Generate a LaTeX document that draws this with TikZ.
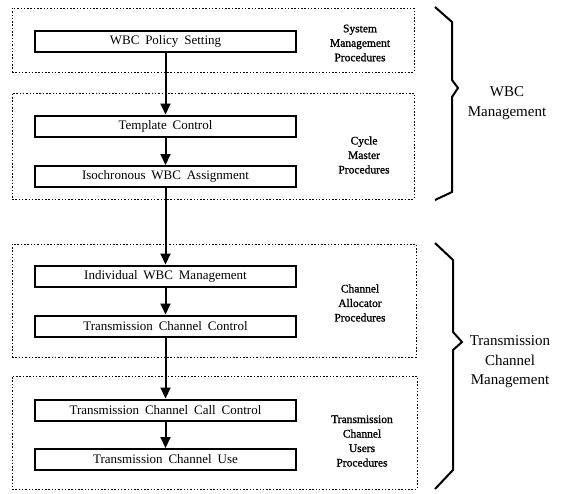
\documentclass[tikz,border=0pt]{standalone}
\usepackage{fontspec}
\setmainfont{Liberation Serif}
\newfontfamily\heavyserif[FakeBold=1.2]{Liberation Serif}
\usetikzlibrary{arrows.meta}
\newcommand{\wideword}{\spaceskip=0.45em\relax}
\begin{document}
\begin{tikzpicture}[x=1pt,y=-1pt,
  procbox/.style={draw,line width=2pt,minimum width=261pt,minimum height=21pt,inner sep=0pt,
    font=\fontsize{13}{15}\selectfont,execute at begin node=\wideword},
  group/.style={draw,line width=0.8pt,dash pattern=on 1.5pt off 1.8pt,inner sep=0pt},
  grplabel/.style={align=center,font=\heavyserif\fontsize{11.5}{14.5}\selectfont},
  biglabel/.style={align=center,font=\fontsize{15}{19.5}\selectfont},
  flow/.style={line width=2pt,-{Triangle[length=11pt,width=10pt]}},
  bracepath/.style={line width=2pt,line join=miter}]
\useasboundingbox (0,0) rectangle (564,493);
% groups
\node[group,minimum width=402pt,minimum height=64pt] (g1) at (213,40) {};
\node[group,minimum width=402pt,minimum height=106pt] (g2) at (213,146) {};
\node[group,minimum width=404pt,minimum height=113pt] (g3) at (214,300.5) {};
\node[group,minimum width=405pt,minimum height=113pt] (g4) at (214.5,432.5) {};
% boxes
\node[procbox] (b1) at (165.5,41.5) {WBC Policy Setting};
\node[procbox] (b2) at (165.5,126) {Template Control};
\node[procbox] (b3) at (165.5,176.5) {Isochronous WBC Assignment};
\node[procbox] (b4) at (165.5,276) {Individual WBC Management};
\node[procbox] (b5) at (165.5,326) {Transmission Channel Control};
\node[procbox] (b6) at (165.5,410) {Transmission Channel Call Control};
\node[procbox] (b7) at (165.5,459.5) {Transmission Channel Use};
% arrows
\draw[flow] (b1) -- (b2);
\draw[flow] (b2) -- (b3);
\draw[flow] (b3) -- (b4);
\draw[flow] (b4) -- (b5);
\draw[flow] (b5) -- (b6);
\draw[flow] (b6) -- (b7);
% group labels
\node[grplabel] (l1) at (360,43) {System\\Management\\Procedures};
\node[grplabel] (l2) at (364,155) {Cycle\\Master\\Procedures};
\node[grplabel] (l3) at (360,303) {Channel\\Allocator\\Procedures};
\node[grplabel] (l4) at (362,441) {Transmission\\Channel\\Users\\Procedures};
% braces
\draw[bracepath] (435,7) -- (452,22) -- (452,80) -- (458,88) -- (452,97) -- (452,192) -- (435,200);
\draw[bracepath] (435,243) -- (453,260) -- (453,332) -- (462,342) -- (453,350) -- (453,470) -- (435,489);
\node[biglabel] (m1) at (507,103) {WBC\\Management};
\node[biglabel] (m2) at (510,362) {Transmission\\Channel\\Management};
\end{tikzpicture}
\end{document}
